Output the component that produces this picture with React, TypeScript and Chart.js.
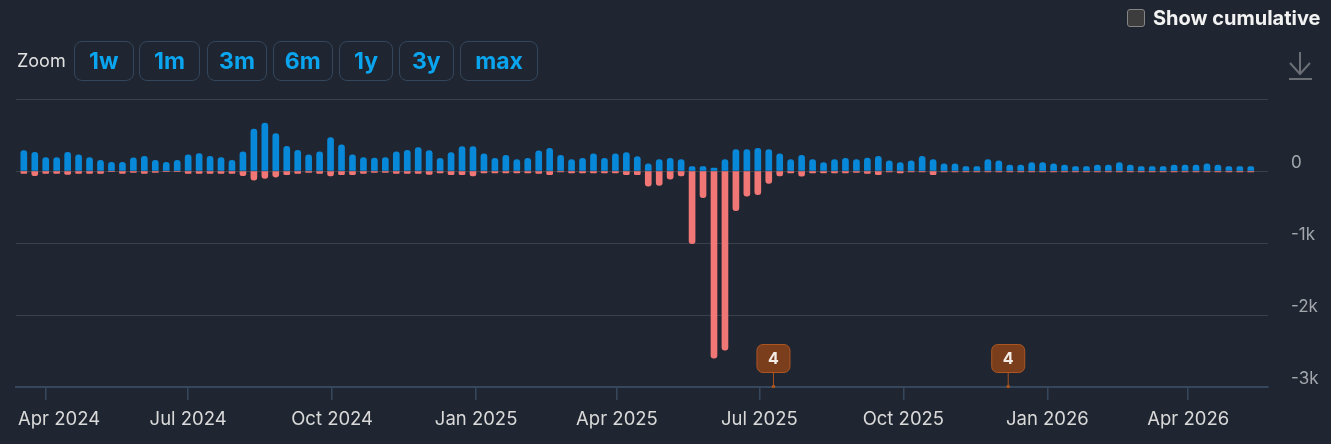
import React, { useEffect, useRef } from "react";
import { Chart, registerables } from "chart.js";

Chart.register(...registerables);

// ---------- data ----------
const WEEKS = [
  "2024-03-18", "2024-03-25", "2024-04-01", "2024-04-08", "2024-04-15", "2024-04-22", "2024-04-29",
  "2024-05-06", "2024-05-13", "2024-05-20", "2024-05-27", "2024-06-03", "2024-06-10", "2024-06-17",
  "2024-06-24", "2024-07-01", "2024-07-08", "2024-07-15", "2024-07-22", "2024-07-29", "2024-08-05",
  "2024-08-12", "2024-08-19", "2024-08-26", "2024-09-02", "2024-09-09", "2024-09-16", "2024-09-23",
  "2024-09-30", "2024-10-07", "2024-10-14", "2024-10-21", "2024-10-28", "2024-11-04", "2024-11-11",
  "2024-11-18", "2024-11-25", "2024-12-02", "2024-12-09", "2024-12-16", "2024-12-23", "2024-12-30",
  "2025-01-06", "2025-01-13", "2025-01-20", "2025-01-27", "2025-02-03", "2025-02-10", "2025-02-17",
  "2025-02-24", "2025-03-03", "2025-03-10", "2025-03-17", "2025-03-24", "2025-03-31", "2025-04-07",
  "2025-04-14", "2025-04-21", "2025-04-28", "2025-05-05", "2025-05-12", "2025-05-19", "2025-05-26",
  "2025-06-02", "2025-06-09", "2025-06-16", "2025-06-23", "2025-06-30", "2025-07-07", "2025-07-14",
  "2025-07-21", "2025-07-28", "2025-08-04", "2025-08-11", "2025-08-18", "2025-08-25", "2025-09-01",
  "2025-09-08", "2025-09-15", "2025-09-22", "2025-09-29", "2025-10-06", "2025-10-13", "2025-10-20",
  "2025-10-27", "2025-11-03", "2025-11-10", "2025-11-17", "2025-11-24", "2025-12-01", "2025-12-08",
  "2025-12-15", "2025-12-22", "2025-12-29", "2026-01-05", "2026-01-12", "2026-01-19", "2026-01-26",
  "2026-02-02", "2026-02-09", "2026-02-16", "2026-02-23", "2026-03-02", "2026-03-09", "2026-03-16",
  "2026-03-23", "2026-03-30", "2026-04-06", "2026-04-13", "2026-04-20", "2026-04-27", "2026-05-04",
  "2026-05-11",
];

const INFLOWS = [
  283, 260, 186, 186, 260, 223, 186, 149, 121, 121, 182, 205, 149, 121, 149, 223, 242, 205, 186, 149,
  265, 581, 665, 521, 344, 288, 223, 265, 465, 363, 223, 186, 181, 186, 265, 288, 325, 284, 177, 256,
  339, 339, 237, 177, 219, 158, 177, 279, 316, 219, 158, 177, 237, 177, 237, 256, 200, 98, 160, 177,
  158, 60, 60, 42, 158, 298, 298, 316, 298, 237, 158, 219, 158, 116, 158, 177, 160, 180, 205, 142,
  118, 142, 205, 160, 100, 100, 60, 60, 160, 142, 82, 82, 118, 118, 100, 82, 60, 60, 82, 82,
  118, 82, 60, 60, 60, 82, 82, 82, 100, 82, 60, 60, 60,
];

const OUTFLOWS = [
  -33, -65, -33, -33, -47, -33, -33, -33, -10, -33, -19, -33, -19, -10, -10, -33, -33, -33, -33, -33,
  -65, -126, -102, -84, -51, -33, -19, -33, -70, -51, -51, -33, -19, -19, -33, -33, -33, -47, -28, -51,
  -51, -70, -28, -28, -28, -28, -28, -33, -51, -14, -28, -28, -28, -28, -28, -51, -51, -209, -200, -112,
  -70, -1010, -372, -2600, -2490, -551, -349, -330, -172, -70, -28, -72, -28, -28, -28, -28, -20, -33, -51, -14,
  -28, -14, -14, -51, -14, -14, -14, -14, -14, -14, -14, -14, -14, -14, -14, -14, -14, -14, -14, -14,
  -14, -14, -14, -14, -14, -14, -14, -14, -14, -14, -14, -14, -14,
];

const TICK_DATES = [
  "2024-04-01", "2024-07-01", "2024-10-01", "2025-01-01", "2025-04-01",
  "2025-07-01", "2025-10-01", "2026-01-01", "2026-04-01",
];
const TICK_LABELS = [
  "Apr 2024", "Jul 2024", "Oct 2024", "Jan 2025", "Apr 2025",
  "Jul 2025", "Oct 2025", "Jan 2026", "Apr 2026",
];

const X_RANGE = ["2024-03-13", "2026-05-22"];
const Y_RANGE = [-3000, 1000];
const Y_STEP = 1000;

const FLAG_DATES = ["2025-07-10", "2025-12-07"];
const FLAG_LABELS = ["4", "4"];

const ZOOM_LABELS = ["1w", "1m", "3m", "6m", "1y", "3y", "max"];

// ---------- styling ----------
const BG = "#202631";
const BLUE = "#0788d8";
const RED = "#f17777";
const GRID = "#3a404c";
const AXIS = "#36475c";
const FONT = "Inter, 'Noto Sans', sans-serif";
const X_LABEL_FONT = `18.5px ${FONT}`;

const ZOOM_BOX = [
  { left: 74, width: 59.5 },
  { left: 139, width: 61 },
  { left: 207, width: 60 },
  { left: 272.5, width: 60.5 },
  { left: 339, width: 54 },
  { left: 399, width: 54.5 },
  { left: 460, width: 78 },
];

const dayNum = (s: string) => Date.parse(s + "T00:00:00Z") / 86400000;

// x-axis labels, kept inside the plot (like a justified axis)
const xLabelPlugin = {
  id: "xLabels",
  afterDraw(chart: any) {
    const ctx = chart.ctx as CanvasRenderingContext2D;
    const xs = chart.scales.x;
    const area = chart.chartArea;
    ctx.save();
    ctx.font = X_LABEL_FONT;
    ctx.fillStyle = "#d9d9d9";
    ctx.textAlign = "left";
    ctx.textBaseline = "alphabetic";
    TICK_DATES.forEach((d, i) => {
      const x = xs.getPixelForValue(dayNum(d));
      const w = ctx.measureText(TICK_LABELS[i]).width;
      let left = x - w / 2;
      if (left < area.left + 2) left = area.left + 2;
      if (left + w > area.right) left = area.right - w;
      ctx.fillText(TICK_LABELS[i], left, area.bottom + 38);
    });
    ctx.restore();
  },
};

const flagPlugin = {
  id: "flags",
  afterDraw(chart: any) {
    const ctx = chart.ctx as CanvasRenderingContext2D;
    const xs = chart.scales.x;
    const bottom = chart.chartArea.bottom;
    FLAG_DATES.forEach((d, i) => {
      const x = xs.getPixelForValue(dayNum(d));
      const w = 34;
      const h = 29;
      const boxBottom = bottom - 14;
      const top = boxBottom - h;
      ctx.save();
      ctx.strokeStyle = "#a9531f";
      ctx.lineWidth = 1;
      ctx.beginPath();
      ctx.moveTo(x, boxBottom);
      ctx.lineTo(x, bottom);
      ctx.stroke();
      ctx.fillStyle = "#a9531f";
      ctx.beginPath();
      ctx.arc(x, bottom - 0.5, 1.8, 0, Math.PI * 2);
      ctx.fill();
      ctx.beginPath();
      (ctx as any).roundRect(x - w / 2 + 0.5, top + 0.5, w - 1, h - 1, 6);
      ctx.fillStyle = "#7a3e1c";
      ctx.fill();
      ctx.strokeStyle = "#ad5622";
      ctx.stroke();
      ctx.fillStyle = "#f3ece6";
      ctx.font = `bold 16px ${FONT}`;
      ctx.textAlign = "center";
      ctx.textBaseline = "middle";
      ctx.fillText(FLAG_LABELS[i], x, top + h / 2 + 0.5);
      ctx.restore();
    });
  },
};

export default function App() {
  const ref = useRef<HTMLCanvasElement | null>(null);

  useEffect(() => {
    if (!ref.current) return;
    const chart = new Chart(ref.current, {
      type: "bar",
      data: {
        datasets: [
          {
            label: "Inflow",
            data: WEEKS.map((w, i) => ({ x: dayNum(w), y: INFLOWS[i] })),
            backgroundColor: BLUE,
            borderRadius: 3,
            borderSkipped: "start",
            barThickness: 6,
          },
          {
            label: "Outflow",
            data: WEEKS.map((w, i) => ({ x: dayNum(w), y: OUTFLOWS[i] })),
            backgroundColor: RED,
            borderRadius: 3,
            borderSkipped: "start",
            barThickness: 6,
          },
        ],
      } as any,
      options: {
        animation: false,
        responsive: true,
        maintainAspectRatio: false,
        layout: { padding: { left: 16, top: 99, right: 0, bottom: 0 } },
        plugins: {
          legend: { display: false },
          tooltip: { enabled: false },
        },
        scales: {
          x: {
            type: "linear",
            stacked: true,
            offset: false,
            bounds: "data",
            min: dayNum(X_RANGE[0]),
            max: dayNum(X_RANGE[1]),
            afterBuildTicks: (s: any) => {
              s.ticks = TICK_DATES.map((d) => ({ value: dayNum(d) }));
            },
            afterFit: (s: any) => {
              s.height = 57;
              s.paddingLeft = 0;
              s.paddingRight = 0;
            },
            ticks: {
              display: false,
              autoSkip: false,
              maxRotation: 0,
            },
            grid: {
              offset: false,
              drawOnChartArea: false,
              drawTicks: true,
              tickLength: 13,
              color: AXIS,
              lineWidth: 1.5,
            },
            border: { display: true, color: AXIS, width: 2 },
          },
          y: {
            position: "right",
            stacked: true,
            min: Y_RANGE[0],
            max: Y_RANGE[1],
            afterFit: (s: any) => {
              s.width = 63;
              s.paddingTop = 0;
              s.paddingBottom = 0;
            },
            ticks: {
              stepSize: Y_STEP,
              callback: (v: any) => {
                const n = Number(v);
                if (n === Y_RANGE[1]) return "";
                if (n === 0) return "0";
                return `${n / 1000}k`;
              },
              labelOffset: -8,
              padding: 23,
              color: "#a3a7ad",
              font: { family: FONT, size: 17 },
            },
            grid: { color: GRID, lineWidth: 1, drawTicks: false },
            border: { display: false },
          },
        },
      } as any,
      plugins: [xLabelPlugin, flagPlugin],
    });
    return () => chart.destroy();
  }, []);

  return (
    <div
      style={{
        position: "fixed",
        left: 0,
        top: 0,
        width: 1331,
        height: 444,
        background: BG,
        overflow: "hidden",
        fontFamily: FONT,
      }}
    >
      <div style={{ position: "absolute", left: 0, top: 0, width: 1331, height: 444 }}>
        <canvas ref={ref} />
      </div>

      <div
        style={{
          position: "absolute",
          left: 17,
          top: 41,
          height: 40,
          lineHeight: "40px",
          fontSize: 18,
          color: "#e2e2e2",
        }}
      >
        Zoom
      </div>
      {ZOOM_LABELS.map((z, i) => (
        <div
          key={z}
          style={{
            position: "absolute",
            left: ZOOM_BOX[i].left,
            top: 41,
            width: ZOOM_BOX[i].width,
            height: 40,
            boxSizing: "border-box",
            border: "1.5px solid #33465c",
            borderRadius: 8,
            color: "#0aa5ee",
            fontWeight: 700,
            fontSize: 23,
            display: "flex",
            alignItems: "center",
            justifyContent: "center",
          }}
        >
          {z}
        </div>
      ))}

      <div
        style={{
          position: "absolute",
          left: 1127,
          top: 9,
          width: 18,
          height: 18,
          boxSizing: "border-box",
          border: "1.5px solid #858585",
          background: "#3d3d3d",
          borderRadius: 3,
        }}
      />
      <div
        style={{
          position: "absolute",
          left: 1153,
          top: 5,
          height: 26,
          lineHeight: "26px",
          fontSize: 20,
          fontWeight: 700,
          color: "#f2f2f2",
          whiteSpace: "nowrap",
        }}
      >
        Show cumulative
      </div>

      <svg
        width={28}
        height={32}
        viewBox="0 0 28 32"
        style={{ position: "absolute", left: 1286, top: 50 }}
      >
        <path
          d="M14 2 V24 M4 13 L14 24 L24 13 M3 29 H26"
          stroke="#6b6e75"
          strokeWidth={2}
          fill="none"
        />
      </svg>
    </div>
  );
}
